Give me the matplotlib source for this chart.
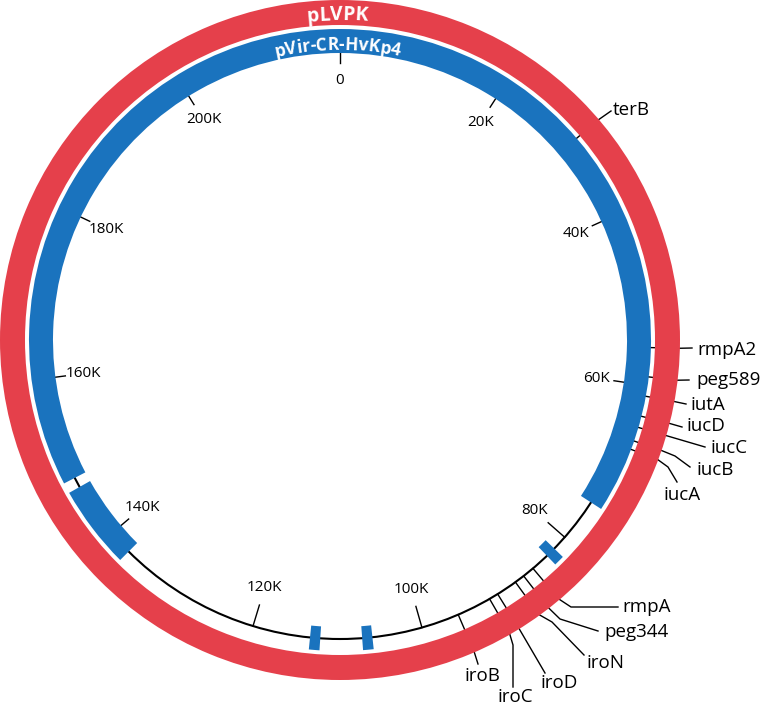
import numpy as np
import matplotlib
matplotlib.use('Agg')
import matplotlib.patches as patches
from matplotlib import pyplot as plt
from matplotlib.font_manager import FontProperties

plt.rcParams['font.family'] = ['Open Sans', 'DejaVu Sans']

#---- data (positions in bp on the pLVPK reference)

plasmid_len = 219385
ref_name = 'pLVPK'
query_name = 'pVir-CR-HvKp4'

# regions of pLVPK covered by pVir-CR-HvKp4
hit_start = [0, 81800, 105900, 112000, 137100, 147800]
hit_end = [74900, 83000, 107100, 113200, 146600, 219385]

tick_pos = [0, 20000, 40000, 60000, 80000, 100000, 120000, 140000, 160000, 180000, 200000]
tick_lab = ['0', '20K', '40K', '60K', '80K', '100K', '120K', '140K', '160K', '180K', '200K']

gene_names = ['terB', 'rmpA2', 'peg589', 'iutA', 'iucD', 'iucC', 'iucB', 'iucA',
              'rmpA', 'peg344', 'iroN', 'iroD', 'iroC', 'iroB']
gene_pos = [30200, 55700, 59000, 61200, 63500, 64800, 66400, 67400,
            85200, 86600, 87800, 90300, 91400, 95500]

#---- layout (pixels, x right / y down)

W, H = 766, 705
cx, cy = 340, 340
r_red, w_red = 340, 25
r_blue, w_blue = 311, 24
r_bb = 299

# leader line bends and label anchors for each gene
leaders = {
    'terB':   [(611, 111)],
    'rmpA2':  [(692, 348)],
    'peg589': [(689, 380)],
    'iutA':   [(686, 404)],
    'iucD':   [(682, 427)],
    'iucC':   [(705, 447)],
    'iucB':   [(675, 456), (690, 467)],
    'iucA':   [(668, 467), (677, 482)],
    'rmpA':   [(571, 607), (618, 607)],
    'peg344': [(560, 619), (598, 631)],
    'iroN':   [(552, 622), (584, 655)],
    'iroD':   [(545, 673)],
    'iroC':   [(513, 645), (513, 687)],
    'iroB':   [(478, 664)],
}
labels = {
    'terB':   (613, 115, 'left'),
    'rmpA2':  (697, 355, 'left'),
    'peg589': (696, 385, 'left'),
    'iutA':   (691, 410, 'left'),
    'iucD':   (687, 431, 'left'),
    'iucC':   (711, 453, 'left'),
    'iucB':   (696, 475, 'left'),
    'iucA':   (682, 500, 'center'),
    'rmpA':   (622, 612, 'left'),
    'peg344': (604, 637, 'left'),
    'iroN':   (587, 668, 'left'),
    'iroD':   (559, 688, 'center'),
    'iroC':   (515, 702, 'center'),
    'iroB':   (482, 681, 'center'),
}

red = '#E5404B'
blue = '#1A73BE'


def ang(bp):
    # degrees, clockwise from top
    return bp / plasmid_len * 360.0


def polar(r, bp):
    a = np.radians(ang(bp))
    return cx + r * np.sin(a), cy - r * np.cos(a)


def arc_text(ax, s, r_base, mid_deg, size):
    fp = FontProperties(family='Open Sans', size=size, weight='bold')
    rend = ax.figure.canvas.get_renderer()
    w = [0.0] + [rend.get_text_width_height_descent(s[:i], fp, ismath=False)[0]
                 for i in range(1, len(s) + 1)]
    total = w[-1]
    for i, ch in enumerate(s):
        mid = (w[i] + w[i + 1]) / 2 - total / 2
        phi = mid_deg + np.degrees(mid / r_base)
        a = np.radians(phi)
        x, y = cx + r_base * np.sin(a), cy - r_base * np.cos(a)
        ax.text(x, y, ch, fontproperties=fp, color='white', ha='center',
                va='baseline', rotation=-phi, rotation_mode='anchor', zorder=5)


def plot_map(ax):

    # backbone
    ax.add_patch(patches.Circle((cx, cy), r_bb, fill=False, lw=1.5,
                                color='black', zorder=1))

    # scale ticks
    for p, lab in zip(tick_pos, tick_lab):
        x0, y0 = polar(r_bb, p)
        x1, y1 = polar(277, p)
        ax.plot([x0, x1], [y0, y1], color='black', lw=1.0, zorder=1)
        tx, ty = polar(259, p)
        ax.text(tx, ty, lab, fontsize=11, ha='center', va='center')

    # query hits (blue) and reference ring (red)
    for s, e in zip(hit_start, hit_end):
        ax.add_patch(patches.Wedge((cx, cy), r_blue, ang(s) - 90, ang(e) - 90,
                                   width=w_blue, color=blue, lw=0, zorder=2))
    ax.add_patch(patches.Wedge((cx, cy), r_red, 0, 360, width=w_red,
                               color=red, lw=0, zorder=2))

    # genes
    for g, p in zip(gene_names, gene_pos):
        x0, y0 = polar(r_bb, p)
        x1, y1 = polar(317, p)
        ax.plot([x0, x1], [y0, y1], color='black', lw=1.0, zorder=1)
        pts = [polar(r_red - 1, p)] + leaders[g]
        ax.plot([q[0] for q in pts], [q[1] for q in pts], color='black',
                lw=1.0, zorder=1)
        tx, ty, ha = labels[g]
        ax.text(tx, ty, g, fontsize=13.5, ha=ha, va='baseline')

    # ring names
    arc_text(ax, ref_name, 320, -0.5, 14)
    arc_text(ax, query_name, 290, -0.5, 12.5)

    ax.set_xlim(0, W)
    ax.set_ylim(H, 0)
    ax.axis('off')
    return ax


if __name__ == '__main__':

    fig = plt.figure(figsize=(W / 100, H / 100), dpi=100)
    ax = fig.add_axes([0, 0, 1, 1])
    ax = plot_map(ax)

    fig.savefig('out.png', dpi=100)
